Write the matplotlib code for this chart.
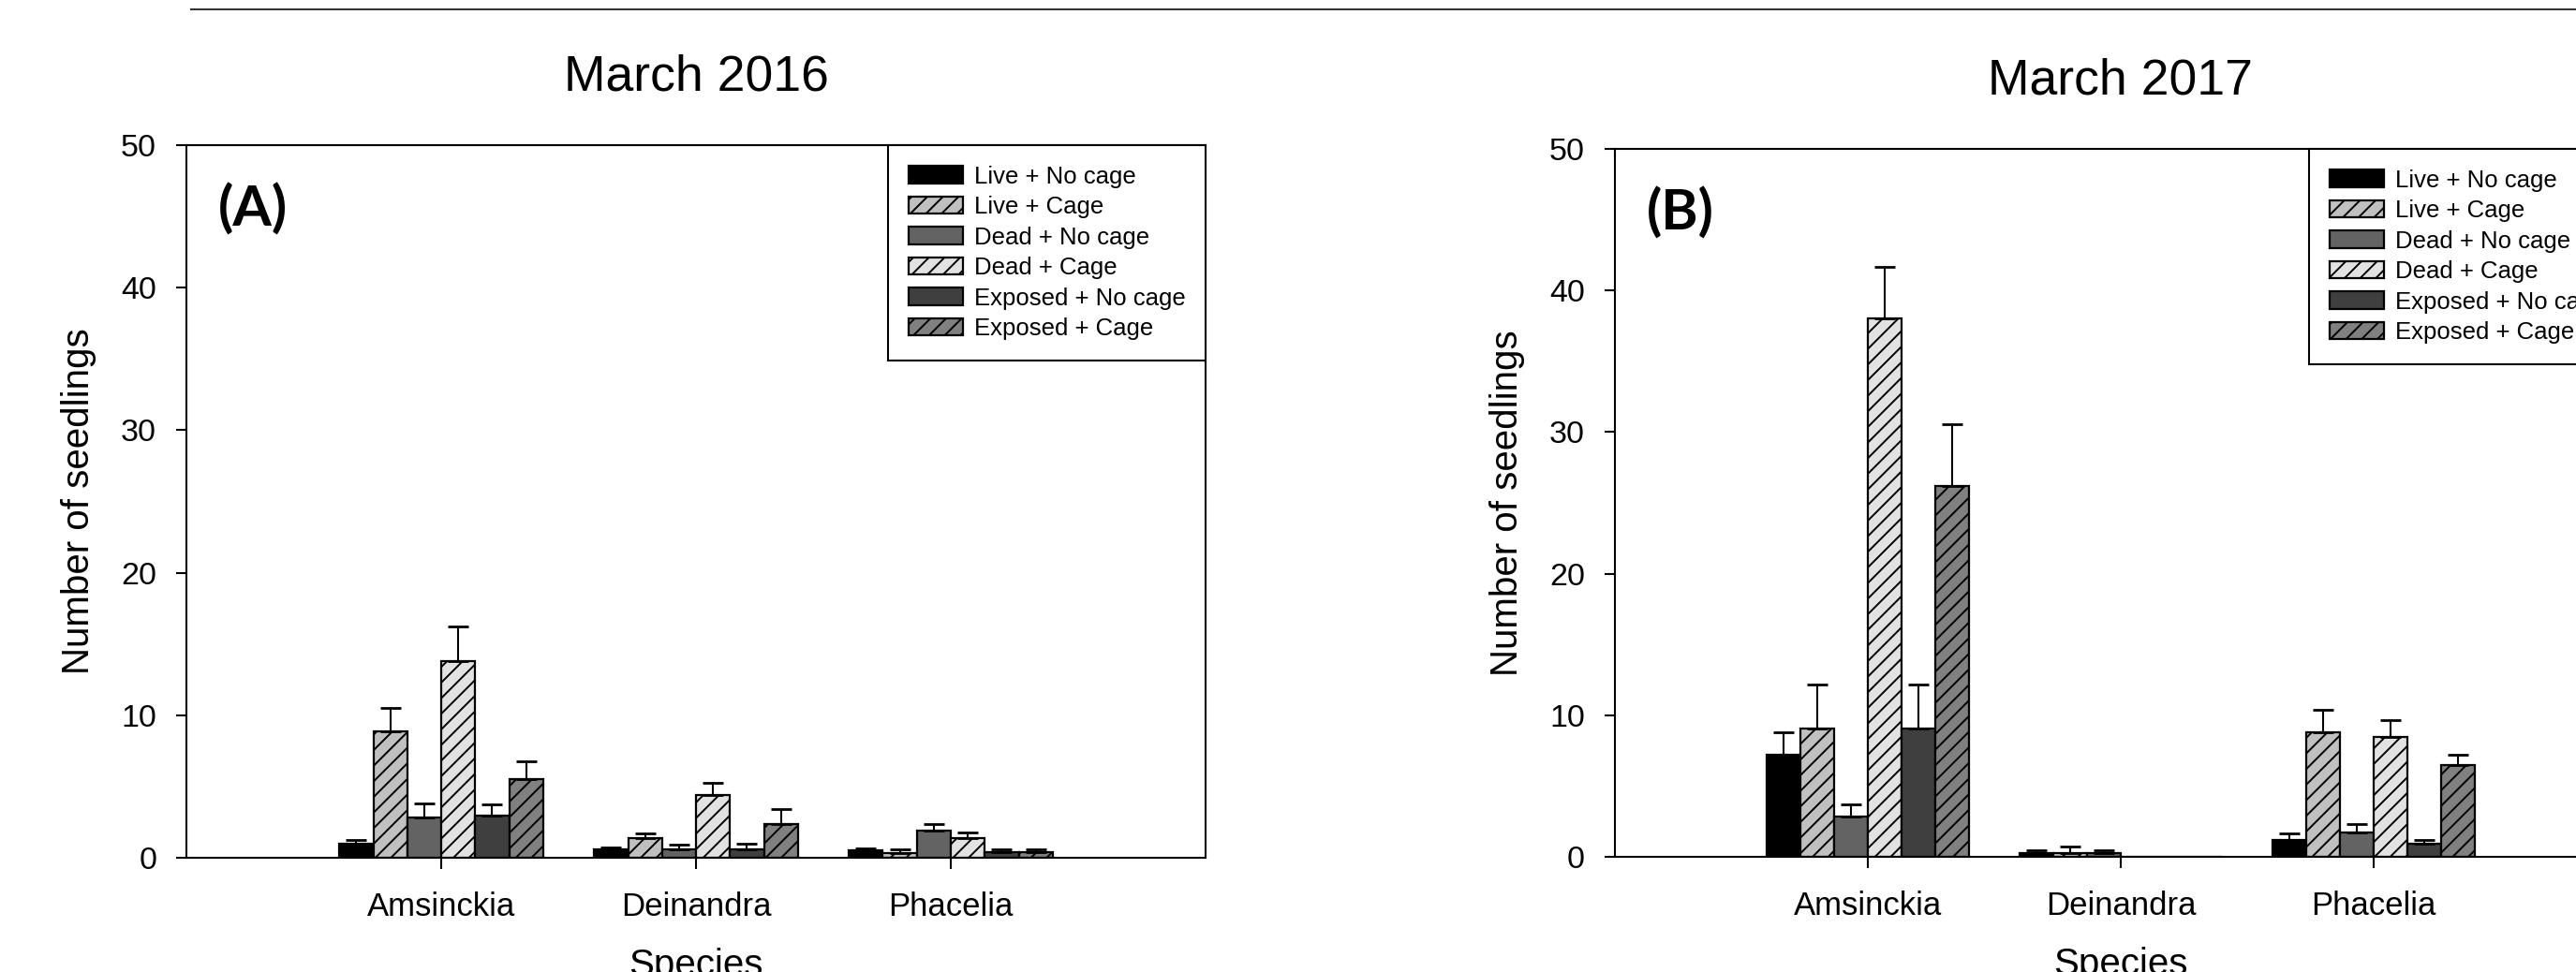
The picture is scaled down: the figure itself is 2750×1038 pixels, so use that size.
import numpy as np
import matplotlib
matplotlib.use("Agg")
import matplotlib.pyplot as plt
from matplotlib.lines import Line2D

plt.rcParams["font.family"] = ["Liberation Sans", "DejaVu Sans"]
plt.rcParams["hatch.linewidth"] = 1.4

species = ["Amsinckia", "Deinandra", "Phacelia"]
treatments = ["Live + No cage", "Live + Cage", "Dead + No cage",
              "Dead + Cage", "Exposed + No cage", "Exposed + Cage"]

# mean seedlings, one row per treatment, columns follow `species`
means_2016 = [[1.0, 0.6, 0.55],
              [8.9, 1.35, 0.35],
              [2.8, 0.6, 1.9],
              [13.8, 4.4, 1.4],
              [2.95, 0.6, 0.37],
              [5.55, 2.4, 0.37]]
se_2016 = [[0.25, 0.12, 0.1],
           [1.6, 0.38, 0.27],
           [1.0, 0.3, 0.45],
           [2.4, 0.85, 0.4],
           [0.8, 0.4, 0.24],
           [1.2, 1.03, 0.24]]

means_2017 = [[7.2, 0.26, 1.22],
              [9.03, 0.26, 8.8],
              [2.83, 0.26, 1.71],
              [38.0, 0.0, 8.45],
              [9.03, 0.0, 0.92],
              [26.2, 0.0, 6.48]]
se_2017 = [[1.6, 0.18, 0.46],
           [3.15, 0.47, 1.58],
           [0.86, 0.18, 0.61],
           [3.7, 0.0, 1.23],
           [3.15, 0.0, 0.26],
           [4.35, 0.0, 0.74]]

fills = ["#000000", "#c0c0c0", "#636363", "#e2e2e2", "#3f3f3f", "#808080"]
hatches = [None, "//", None, "//", None, "//"]


def draw_panel(ax, means, ses, title, tag):
  x = np.arange(1, len(species) + 1)
  width = 0.8 / len(treatments)
  for i, name in enumerate(treatments):
    pos = x + (i - (len(treatments) - 1) / 2) * width
    m = np.array(means[i])
    e = np.array(ses[i])
    ax.bar(pos, m, width, color=fills[i], hatch=hatches[i],
           edgecolor="black", linewidth=1.6, label=name, zorder=2)
    keep = e > 0  # SigmaPlot draws only the upper whisker
    ax.errorbar(pos[keep], m[keep], yerr=[np.zeros(keep.sum()), e[keep]],
                fmt="none", ecolor="black", elinewidth=1.5,
                capsize=8, capthick=2, zorder=3)

  ax.set_xlim(0, 4)
  ax.set_ylim(0, 50)
  ax.set_yticks(np.arange(0, 51, 10))
  ax.set_xticks(x)
  ax.set_xticklabels(species)
  ax.tick_params(axis="y", direction="out", length=8, width=1.5,
                 labelsize=24.5, pad=15)
  ax.tick_params(axis="x", direction="out", length=8.6, width=1.5,
                 labelsize=25, pad=17)
  for s in ax.spines.values():
    s.set_linewidth(1.5)
  ax.set_ylabel("Number of seedlings", fontsize=29, labelpad=19)
  ax.set_xlabel("Species", fontsize=29, labelpad=20)
  ax.set_title(title, fontsize=38.5, pad=42)
  ax.text(0.031, 0.91, tag, transform=ax.transAxes, fontsize=43,
          family="Lato", weight="bold", ha="left", va="center")

  leg = ax.legend(loc="upper right", borderaxespad=0, fontsize=18.5,
                  handlelength=2.26, handleheight=0.74, handletextpad=0.45,
                  labelspacing=0.33, borderpad=0.84, fancybox=False,
                  framealpha=1, edgecolor="black")
  leg.get_frame().set_linewidth(1.5)


fig = plt.figure(figsize=(27.5, 10.38), dpi=100)
ax1 = fig.add_axes([0.0724, 0.1175, 0.3956, 0.7331])
ax2 = fig.add_axes([0.6269, 0.1185, 0.3927, 0.7283])  # runs past the right edge

draw_panel(ax1, means_2016, se_2016, "March 2016", "(A)")
draw_panel(ax2, means_2017, se_2017, "March 2017", "(B)")

# rule along the top of the page
fig.add_artist(Line2D([0.074, 1.0], [0.99, 0.99], color="#333333",
                      linewidth=1.5, transform=fig.transFigure))

plt.savefig("out.png", dpi=100)
